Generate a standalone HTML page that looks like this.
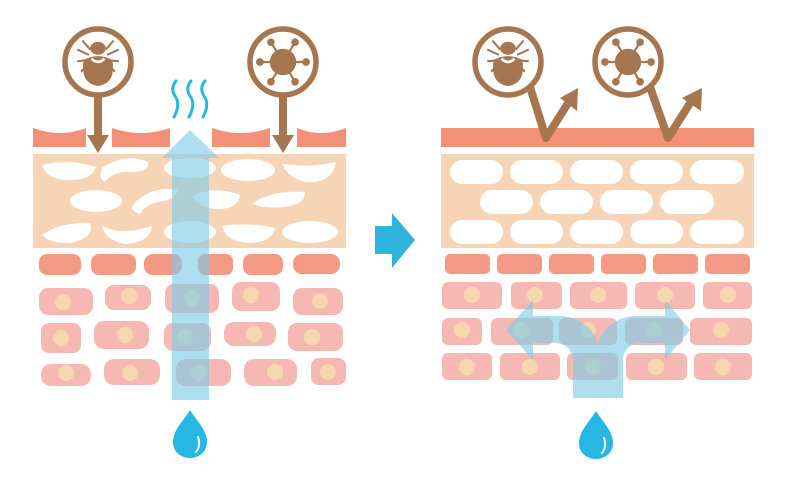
<!DOCTYPE html>
<html><head><meta charset="utf-8"><style>html,body{margin:0;padding:0;background:#fff}svg{display:block}</style></head>
<body>
<svg width="793" height="488" viewBox="0 0 793 488" xmlns="http://www.w3.org/2000/svg">
<defs>
<g id="mite">
<g stroke="#a57650" stroke-width="1.6" fill="none">
<path d="M-6,-8 L-12,-15 M6,-8 L12,-15 M-7,-4 L-16,-8 M7,-4 L16,-8 M-7,0 L-16,1 M7,0 L16,1 M-7,3 L-13,9 M7,3 L13,9"/>
</g>
<ellipse cx="0" cy="-9" rx="6" ry="5" fill="#a57650"/>
<path d="M-11,0 Q0,-6 11,0 Q14,18 0,20 Q-14,18 -11,0Z" fill="#a57650"/>
<path d="M-5,-1 Q0,4 5,-1" stroke="#fff" stroke-width="2" fill="none"/>
</g>
<g id="virus">
<g stroke="#a57650" stroke-width="2">
<line x1="-21" y1="0" x2="21" y2="0"/><line x1="-11" y1="-18" x2="11" y2="18"/><line x1="11" y1="-18" x2="-11" y2="18"/>
</g>
<circle r="12" fill="#a57650"/>
<g fill="#a57650"><circle cx="-21" cy="0" r="3.5"/><circle cx="21" cy="0" r="3.5"/><circle cx="-11" cy="-18" r="3.5"/><circle cx="11" cy="-18" r="3.5"/><circle cx="-11" cy="18" r="3.5"/><circle cx="11" cy="18" r="3.5"/></g>
</g>
<g id="drop">
<path d="M0,-24 C6,-14 17,-4 17,8 C17,18 9,24 0,24 C-9,24 -17,18 -17,8 C-17,-4 -6,-14 0,-24Z" fill="#27b7e4"/>
<path d="M8,3 Q11,12 6,18" stroke="#fff" stroke-width="2" fill="none" stroke-linecap="round"/>
</g>
</defs>

<!-- LEFT PANEL -->
<g fill="#f2907a">
<path d="M33,128 Q60,138 86,128 L86,147 L33,147Z"/>
<path d="M112,128 Q141,138 170,128 L170,147 L112,147Z"/>
<path d="M212,128 Q241,138 270,128 L270,147 L212,147Z"/>
<path d="M297,128 Q321,138 346,128 L346,147 L297,147Z"/>
</g>
<rect x="33" y="154" width="313" height="94" fill="#f8d4b6"/>
<g fill="#fff">
<path d="M42,165 Q70,158 96,167 Q92,180 70,180 Q48,181 42,165Z"/>
<path d="M102,168 Q125,152 148,162 Q150,172 132,172 Q115,170 105,182 Q98,178 102,168Z"/>
<ellipse cx="190" cy="168" rx="26" ry="10"/>
<ellipse cx="248" cy="170" rx="27" ry="11"/>
<path d="M282,164 Q310,168 336,162 Q332,184 306,182 Q288,178 282,164Z"/>
<ellipse cx="96" cy="201" rx="26" ry="11"/>
<path d="M132,206 Q150,185 178,190 Q175,200 158,202 Q145,205 140,214 Q132,212 132,206Z"/>
<path d="M192,196 Q215,185 240,195 Q238,210 215,209 Q198,207 192,196Z"/>
<path d="M252,204 Q270,190 305,192 Q305,203 290,206 Q270,210 252,204Z"/>
<path d="M42,235 Q60,222 90,223 Q95,238 70,243 Q50,244 42,235Z"/>
<path d="M102,226 Q120,236 152,226 Q150,243 125,244 Q105,240 102,226Z"/>
<ellipse cx="190" cy="232" rx="26" ry="11"/>
<path d="M222,226 Q250,222 275,228 Q272,243 248,243 Q225,241 222,226Z"/>
<ellipse cx="310" cy="232" rx="28" ry="11"/>
</g>
<g fill="#f39a84">
<rect x="39" y="254" width="42" height="21" rx="8"/>
<rect x="91" y="254" width="45" height="21" rx="8"/>
<rect x="144" y="254" width="38" height="21" rx="9"/>
<rect x="198" y="254" width="35" height="21" rx="7"/>
<rect x="243" y="254" width="40" height="21" rx="8"/>
<rect x="293" y="254" width="47" height="20" rx="9"/>
</g>
<g fill="#f6b8b2">
<rect x="39" y="288" width="54" height="27" rx="9"/>
<rect x="105" y="285" width="46" height="25" rx="9"/>
<rect x="165" y="284" width="54" height="29" rx="9"/>
<rect x="232" y="282" width="48" height="29" rx="9"/>
<rect x="293" y="288" width="50" height="27" rx="9"/>
<rect x="41" y="323" width="40" height="30" rx="8"/>
<rect x="94" y="321" width="55" height="28" rx="10"/>
<rect x="164" y="323" width="47" height="28" rx="9"/>
<rect x="224" y="322" width="52" height="24" rx="10"/>
<rect x="288" y="323" width="55" height="28" rx="9"/>
<rect x="41" y="364" width="50" height="22" rx="10"/>
<rect x="104" y="359" width="56" height="26" rx="10"/>
<rect x="176" y="359" width="55" height="27" rx="10"/>
<rect x="244" y="359" width="53" height="27" rx="10"/>
<rect x="311" y="358" width="35" height="27" rx="8"/>
</g>
<g fill="#f7d8ae">
<circle cx="63" cy="302" r="8"/><circle cx="129" cy="296" r="8"/><circle cx="192" cy="298" r="8"/><circle cx="251" cy="295" r="8"/><circle cx="320" cy="301" r="8"/>
<circle cx="61" cy="338" r="8"/><circle cx="125" cy="335" r="8"/><circle cx="185" cy="337" r="8"/><circle cx="254" cy="334" r="8"/><circle cx="312" cy="337" r="8"/>
<circle cx="66" cy="373" r="8"/><circle cx="130" cy="373" r="8"/><circle cx="199" cy="373" r="8"/><circle cx="275" cy="372" r="8"/><circle cx="328" cy="372" r="8"/>
</g>
<path d="M172,400 L172,158 L162,158 L190,130 L219,158 L209,158 L209,400Z" fill="#7ccbe8" opacity="0.62"/>
<g stroke="#27b7e4" stroke-width="3" fill="none" stroke-linecap="round">
<path d="M176,81 Q170,88 175,96 Q181,104 174,117"/>
<path d="M191,81 Q185,88 190,96 Q196,104 189,117"/>
<path d="M205,81 Q199,88 204,96 Q210,104 203,117"/>
</g>
<use href="#drop" x="190" y="434"/>

<!-- Icons left -->
<g fill="none" stroke="#a57650" stroke-width="5.5"><circle cx="98" cy="62" r="33"/><circle cx="283" cy="62" r="33"/></g>
<g fill="#a57650">
<rect x="94" y="95" width="8" height="42"/><path d="M87,135 L109,135 L98,153Z"/>
<rect x="279" y="95" width="8" height="42"/><path d="M272,135 L294,135 L283,153Z"/>
</g>
<use href="#mite" transform="translate(98,60) scale(1.3)"/>
<use href="#virus" transform="translate(283,62) scale(1.1)"/>

<!-- Center arrow -->
<path d="M375,226 L392,226 L392,213 L415,240 L392,268 L392,254 L375,254Z" fill="#2eb4dc"/>

<!-- RIGHT PANEL -->
<rect x="441" y="128" width="313" height="19" fill="#f2907a"/>
<rect x="441" y="154" width="313" height="94" fill="#f8d4b6"/>
<g fill="#fff">
<rect x="450" y="160" width="53" height="24" rx="12"/><rect x="510" y="160" width="53" height="24" rx="12"/><rect x="570" y="160" width="53" height="24" rx="12"/><rect x="630" y="160" width="53" height="24" rx="12"/><rect x="690" y="160" width="54" height="24" rx="12"/>
<rect x="480" y="190" width="53" height="24" rx="12"/><rect x="540" y="190" width="53" height="24" rx="12"/><rect x="600" y="190" width="53" height="24" rx="12"/><rect x="660" y="190" width="54" height="24" rx="12"/>
<rect x="450" y="220" width="53" height="24" rx="12"/><rect x="510" y="220" width="53" height="24" rx="12"/><rect x="570" y="220" width="53" height="24" rx="12"/><rect x="630" y="220" width="53" height="24" rx="12"/><rect x="690" y="220" width="54" height="24" rx="12"/>
</g>
<g fill="#f39a84">
<rect x="445" y="254" width="45" height="20" rx="5"/><rect x="497" y="254" width="45" height="20" rx="5"/><rect x="549" y="254" width="45" height="20" rx="5"/><rect x="601" y="254" width="45" height="20" rx="5"/><rect x="653" y="254" width="45" height="20" rx="5"/><rect x="705" y="254" width="45" height="20" rx="5"/>
</g>
<g fill="#f6b8b2">
<rect x="442" y="282" width="60" height="27" rx="6"/><rect x="511" y="282" width="51" height="27" rx="6"/><rect x="570" y="282" width="57" height="27" rx="6"/><rect x="635" y="282" width="60" height="27" rx="6"/><rect x="703" y="282" width="49" height="27" rx="6"/>
<rect x="442" y="318" width="40" height="27" rx="6"/><rect x="491" y="318" width="62" height="27" rx="6"/><rect x="559" y="318" width="58" height="27" rx="6"/><rect x="625" y="318" width="58" height="27" rx="6"/><rect x="690" y="318" width="62" height="27" rx="6"/>
<rect x="442" y="353" width="50" height="27" rx="6"/><rect x="500" y="353" width="60" height="27" rx="6"/><rect x="567" y="353" width="51" height="27" rx="6"/><rect x="626" y="353" width="61" height="27" rx="6"/><rect x="694" y="353" width="58" height="27" rx="6"/>
</g>
<g fill="#f7d8ae">
<circle cx="472" cy="295" r="8"/><circle cx="535" cy="295" r="8"/><circle cx="598" cy="295" r="8"/><circle cx="665" cy="295" r="8"/><circle cx="728" cy="295" r="8"/>
<circle cx="462" cy="330" r="8"/><circle cx="521" cy="330" r="8"/><circle cx="588" cy="330" r="8"/><circle cx="654" cy="330" r="8"/><circle cx="721" cy="330" r="8"/>
<circle cx="467" cy="367" r="8"/><circle cx="530" cy="367" r="8"/><circle cx="593" cy="367" r="8"/><circle cx="656" cy="367" r="8"/><circle cx="723" cy="367" r="8"/>
</g>
<path d="M573,398 L573,360 C573,350 565,343 555,343 L533,343 L533,360 L506,330 L533,300 L533,316 L560,316 C580,316 595,330 598,345 C601,330 616,316 636,316 L665,316 L665,300 L690,330 L665,360 L665,343 L641,343 C631,343 623,350 623,360 L623,398Z" fill="#7ccbe8" opacity="0.62"/>
<use href="#drop" x="596" y="435"/>

<!-- Icons right -->
<g fill="none" stroke="#a57650" stroke-width="5.5"><circle cx="508" cy="62" r="33"/><circle cx="628" cy="62" r="33"/></g>
<g fill="none" stroke="#a57650" stroke-width="8" stroke-linejoin="round">
<path d="M530,87 L546,138 L570,100"/>
<path d="M650,87 L668,138 L692,100"/>
</g>
<g fill="#a57650">
<path d="M560,98 L578,88 L577,111Z"/>
<path d="M682,98 L702,88 L701,111Z"/>
</g>
<use href="#mite" transform="translate(508,60) scale(1.3)"/>
<use href="#virus" transform="translate(628,62) scale(1.1)"/>
</svg>
</body></html>
